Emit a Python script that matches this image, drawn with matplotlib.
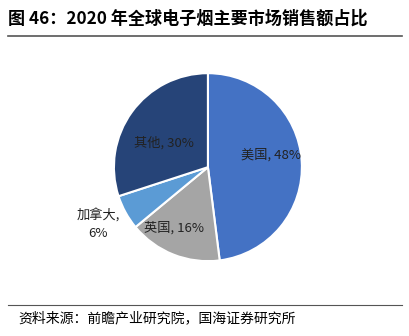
import matplotlib
matplotlib.use('Agg')
import matplotlib.pyplot as plt

plt.rcParams['font.family'] = ['Noto Sans CJK SC', 'DejaVu Sans']

labels = ["美国", "英国", "加拿大", "其他"]
shares = [48, 16, 6, 30]
colors = ["#4472C4", "#A5A5A5", "#5B9BD5", "#264478"]

fig = plt.figure(figsize=(4.1, 3.36), dpi=100)

# title and rules
fig.text(0.02, 0.945, "图 46：2020 年全球电子烟主要市场销售额占比",
         fontsize=12.3, fontweight='bold', va='center', ha='left')
fig.add_artist(plt.Line2D([0.02, 0.98], [0.893, 0.893], color='#555555', lw=1.2))
fig.add_artist(plt.Line2D([0.02, 0.98], [0.092, 0.092], color='#555555', lw=0.8))
fig.text(0.045, 0.052, "资料来源：前瞻产业研究院，国海证券研究所",
         fontsize=10, va='center', ha='left')

ax = fig.add_axes([0.2756, 0.220, 0.463, 0.565])
ax.pie(shares, colors=colors, startangle=90, counterclock=False,
       wedgeprops=dict(edgecolor='white', linewidth=1.5))
ax.set_xlim(-1.01, 1.01)
ax.set_ylim(-1.01, 1.01)
ax.set_aspect('equal')

label_pos = [(0.67, 0.13), (-0.36, -0.65), (-1.17, -0.61), (-0.47, 0.26)]
for name, v, (x, y) in zip(labels, shares, label_pos):
    txt = f"{name}, {v}%" if name != "加拿大" else f"{name},\n{v}%"
    ax.text(x, y, txt, ha='center', va='center', fontsize=9.5, color='#222222',
            linespacing=1.4)

fig.savefig("out.png", dpi=100)
